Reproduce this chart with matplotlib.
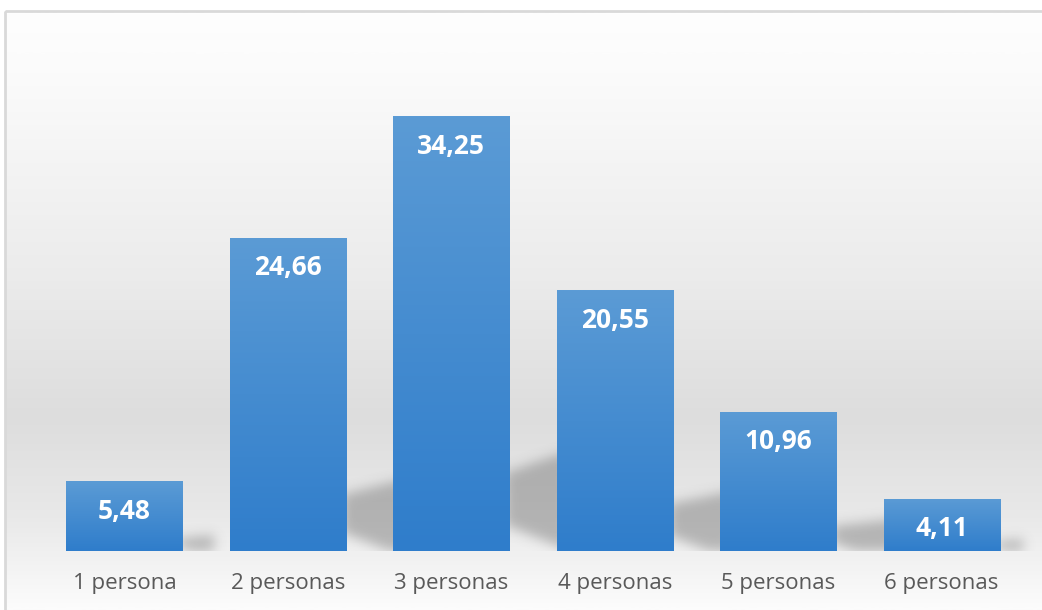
import numpy as np
import matplotlib.pyplot as plt
from matplotlib.patches import Rectangle
from matplotlib.path import Path
from matplotlib.colors import LinearSegmentedColormap

plt.rcParams['font.family'] = ['Open Sans', 'DejaVu Sans']

# Data
categorias = ['1 persona', '2 personas', '3 personas', '4 personas', '5 personas', '6 personas']
valores = [5.48, 24.66, 34.25, 20.55, 10.96, 4.11]
etiquetas = ['5,48', '24,66', '34,25', '20,55', '10,96', '4,11']

W, H = 1042, 610
fig = plt.figure(figsize=(W / 100, H / 100), dpi=100)

# --- background gradient (chart area) ---
bg = fig.add_axes([0, 0, 1, 1])
bg.set_xlim(0, W)
bg.set_ylim(H, 0)
bg.axis('off')
stops = [(0.0, '#fefefe'), (0.10, '#fbfbfb'), (0.45, '#ebebeb'),
         (0.68, '#dddddd'), (0.85, '#e9e9e9'), (1.0, '#fcfcfc')]
cmap_bg = LinearSegmentedColormap.from_list('bg', stops)
grad = np.linspace(0, 1, 300).reshape(-1, 1)
bg.imshow(grad, cmap=cmap_bg, aspect='auto', extent=(5, W + 5, H, 11), zorder=0)
bg.add_patch(Rectangle((5, 11), W + 10, H + 10, fill=False, edgecolor='#d9d9d9',
                       linewidth=2, zorder=1))

# --- main axes ---
left, right = 42.75, 1023.25
base, top = 551, 43
ax = fig.add_axes([left / W, (H - base) / H, (right - left) / W, (base - top) / H])
ax.patch.set_alpha(0)
ax.set_xlim(-0.5, len(valores) - 0.5)
ax.set_ylim(0, 40)
for s in ax.spines.values():
    s.set_visible(False)
ax.set_yticks([])
ax.set_xticks(range(len(categorias)))
ax.set_xticklabels(categorias, fontsize=16, color='#595959')
ax.tick_params(axis='x', length=0, pad=16)

ancho = 0.71
x = np.arange(len(valores))

# --- soft perspective shadows, rasterised in pixel space and blurred ---
yy, xx = np.mgrid[0:H, 0:W]
pts = np.column_stack([xx.ravel() + 0.5, yy.ravel() + 0.5])
mask = np.zeros(H * W)
for xi, v in zip(x, valores):
    # bar right edge and height in pixels, via the axes transform
    xr_d = xi + ancho / 2
    x0, y0 = ax.transData.transform((xr_d, 0))
    _, y1 = ax.transData.transform((xr_d, v))
    xr, hb = x0, y1 - y0
    yb = H - y0
    ext = min(0.45 * hb, 60)
    poly = Path([(xr - 4, yb - 0.06 * hb), (xr - 4, yb - 0.18 * hb),
                 (xr + ext, yb - 0.23 * hb), (xr + ext, yb),
                 (xr + 0.14 * hb, yb)])
    mask = np.maximum(mask, poly.contains_points(pts).astype(float))
mask = mask.reshape(H, W)
k = np.exp(-0.5 * (np.arange(-18, 19) / 6.0) ** 2)
k /= k.sum()
mask = np.apply_along_axis(lambda r: np.convolve(r, k, mode='same'), 1, mask)
mask = np.apply_along_axis(lambda c: np.convolve(c, k, mode='same'), 0, mask)
mask[int(base):, :] *= 0.0
shadow = np.zeros((H, W, 4))
shadow[..., :3] = 0.35
shadow[..., 3] = mask * 0.38
bg.imshow(shadow, extent=(0, W, H, 0), aspect='auto', zorder=0.5, interpolation='bilinear')

# bars with vertical gradient
cmap_bar = LinearSegmentedColormap.from_list('bar', ['#2f7dcb', '#5b9bd5'])
bars = ax.bar(x, valores, width=ancho, color='#4a8fd2', zorder=2)
for b in bars:
    g = np.linspace(0, 1, 200).reshape(-1, 1)
    im = ax.imshow(g, cmap=cmap_bar, aspect='auto', origin='lower',
                   extent=(b.get_x(), b.get_x() + b.get_width(), 0, b.get_height()),
                   zorder=3)
    im.set_clip_path(b)
ax.set_xlim(-0.5, len(valores) - 0.5)
ax.set_ylim(0, 40)

# data labels inside bars
for xi, v, t in zip(x, valores, etiquetas):
    ax.annotate(t, (xi, v), xytext=(0, -30), textcoords='offset pixels',
                ha='center', va='center', fontsize=19, fontweight='bold',
                color='white', zorder=4)

fig.savefig('out.png', dpi=100)
